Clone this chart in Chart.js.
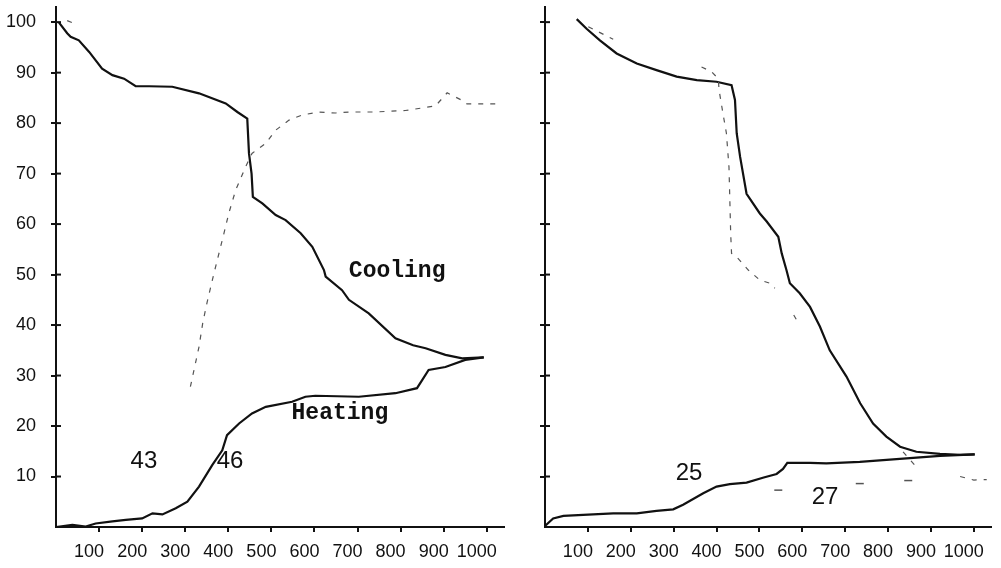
<!DOCTYPE html>
<html>
<head>
<meta charset="utf-8">
<script src="https://cdn.jsdelivr.net/npm/chart.js@4/dist/chart.umd.min.js"></script>
<style>
  html, body { margin: 0; padding: 0; background: #fff; }
  #wrap { position: relative; width: 1001px; height: 568px; overflow: hidden; }
  canvas { position: absolute; top: 0; }
  #leftChart { left: 0; }
  #rightChart { left: 500px; }
</style>
</head>
<body>
<div id="wrap">
  <canvas id="leftChart" width="520" height="568"></canvas>
  <canvas id="rightChart" width="501" height="568"></canvas>
</div>
<script>
// --- DATA ---
// left panel
const leftCoolX = [7, 26, 34, 53, 77, 107, 131, 158, 185, 216, 270, 332, 394, 421, 444, 448, 454, 457, 479, 510, 533, 568, 595, 622, 626, 664, 680, 726, 788, 829, 858, 904, 943, 993];
const leftCoolY = [99.9, 97.8, 97.1, 96.4, 94.1, 90.8, 89.5, 88.8, 87.3, 87.3, 87.2, 85.9, 83.9, 82.2, 80.9, 74, 70, 65.4, 64.1, 61.8, 60.8, 58.2, 55.5, 50.9, 49.6, 46.9, 45, 42.3, 37.4, 36, 35.4, 34.1, 33.4, 33.6];

const leftHeatX = [0, 38, 69, 92, 131, 162, 200, 224, 247, 278, 305, 332, 363, 386, 397, 425, 455, 487, 548, 579, 602, 703, 788, 838, 850, 865, 904, 950, 993];
const leftHeatY = [0, 0.4, 0.1, 0.7, 1.1, 1.4, 1.7, 2.7, 2.5, 3.7, 5, 8, 12.3, 15.2, 18.2, 20.5, 22.5, 23.8, 24.8, 25.8, 26, 25.8, 26.5, 27.5, 29.1, 31.1, 31.7, 33.1, 33.6];

const leftDashX = [26, 40, 100, 312, 332, 341, 351, 366, 390, 401, 417, 440, 455, 487, 510, 541, 571, 610, 649, 680, 738, 811, 850, 881, 908, 943, 954, 1020];
const leftDashY = [100.3, 99.8, null, 27.8, 35.7, 40.6, 44.6, 50, 58.2, 62.1, 66.7, 71.3, 74, 76, 78.6, 80.6, 81.6, 82.2, 82, 82.2, 82.2, 82.5, 83, 83.4, 86, 84.5, 83.8, 83.8];

// right panel
const rightCoolX = [74, 97, 128, 167, 214, 260, 307, 354, 400, 435, 443, 447, 455, 470, 501, 517, 544, 552, 563, 571, 594, 618, 641, 664, 703, 735, 765, 796, 828, 866, 921, 968, 1002];
const rightCoolY = [100.6, 98.7, 96.4, 93.8, 91.8, 90.5, 89.2, 88.5, 88.2, 87.5, 84.6, 78, 73.3, 66, 62.1, 60.5, 57.5, 54.2, 50.9, 48.3, 46.3, 43.6, 39.7, 35, 29.8, 24.5, 20.5, 17.9, 15.9, 14.9, 14.5, 14.3, 14.4];

const rightHeatX = [0, 19, 43, 89, 159, 214, 260, 299, 322, 369, 400, 431, 470, 510, 540, 555, 565, 618, 656, 734, 843, 921, 1002];
const rightHeatY = [0.2, 1.7, 2.2, 2.4, 2.7, 2.7, 3.2, 3.5, 4.4, 6.7, 8, 8.5, 8.8, 9.8, 10.5, 11.5, 12.7, 12.7, 12.6, 12.9, 13.6, 14.1, 14.4];

const rightDashX = [101, 159, 250, 365, 388, 404, 406, 415, 423, 429, 431, 433, 435, 450, 474, 501, 524, 536, 560, 580, 590, 700, 835, 866, 920, 968, 1000, 1030];
const rightDashY = [99.1, 96.6, null, 91.1, 90.2, 88.8, 86.5, 81.9, 78, 71.3, 64.8, 58.1, 54.2, 53.2, 50.9, 48.9, 48.3, 47.3, null, 42, 40.5, null, 14.9, 11.9, null, 10, 9.3, 9.4];

// stray dashes under the right curves
const rightMarkX = [544, 734, 847];
const rightMarkY = [7.3, 8.6, 9.2];

// axes
const xTicks = [100, 200, 300, 400, 500, 600, 700, 800, 900, 1000];
const yTicks = [10, 20, 30, 40, 50, 60, 70, 80, 90, 100];

// text written on the plots (data coordinates)
const leftNotes = [
    { text: "Cooling", x: 792, y: 50.7, mono: true },
    { text: "Heating", x: 659, y: 22.6, mono: true },
    { text: "43", x: 204, y: 12.9 },
    { text: "46", x: 404, y: 12.9 }
];
const rightNotes = [
    { text: "25", x: 336, y: 10.7 },
    { text: "27", x: 653, y: 5.9 }
];

function pts(xs, ys) {
    return xs.map((x, i) => ({ x: x, y: ys[i] }));
}

// draws inner halves of the y tick crosses and the hand written labels
const notesPlugin = {
    id: "notes",
    afterDraw(chart, args, opts) {
        const ctx = chart.ctx;
        const xs = chart.scales.x;
        const ys = chart.scales.y;
        ctx.save();
        ctx.strokeStyle = "#111";
        ctx.lineWidth = 2;
        yTicks.forEach(v => {
            const py = ys.getPixelForValue(v);
            ctx.beginPath();
            ctx.moveTo(xs.left, py);
            ctx.lineTo(xs.left + 5, py);
            ctx.stroke();
        });
        ctx.fillStyle = "#111";
        ctx.textAlign = "center";
        ctx.textBaseline = "middle";
        (opts.items || []).forEach(n => {
            ctx.font = n.mono ? "bold 23px 'Liberation Mono', monospace" : "24px 'Liberation Sans', Arial, sans-serif";
            ctx.fillText(n.text, xs.getPixelForValue(n.x), ys.getPixelForValue(n.y));
        });
        ctx.restore();
    }
};

function makeOptions(showYLabels, yWidth, padRight, notes) {
    return {
        responsive: false,
        animation: false,
        devicePixelRatio: 1,
        layout: { padding: { top: 7, right: padRight, bottom: 0, left: 0 } },
        plugins: {
            legend: { display: false },
            tooltip: { enabled: false },
            notes: { items: notes }
        },
        elements: { point: { radius: 0 }, line: { tension: 0 } },
        scales: {
            x: {
                type: "linear",
                min: 0,
                max: 1040,
                afterFit: s => { s.height = 41; s.paddingLeft = 0; s.paddingRight = 0; },
                afterBuildTicks: s => { s.ticks = xTicks.map(v => ({ value: v })); },
                ticks: {
                    color: "#111",
                    padding: 9,
                    labelOffset: -10,
                    maxRotation: 0,
                    callback: v => String(v),
                    font: { family: "'Liberation Sans', Arial, sans-serif", size: 18 }
                },
                grid: { drawOnChartArea: false, tickLength: 5, color: "#111", lineWidth: 2 },
                border: { display: true, color: "#111", width: 2 }
            },
            y: {
                type: "linear",
                min: 0,
                max: 103,
                afterFit: s => { s.width = yWidth; s.paddingTop = 0; s.paddingBottom = 0; },
                afterBuildTicks: s => { s.ticks = yTicks.map(v => ({ value: v })); },
                ticks: {
                    display: showYLabels,
                    color: "#111",
                    padding: 15,
                    callback: v => String(v),
                    font: { family: "'Liberation Sans', Arial, sans-serif", size: 18 }
                },
                grid: { drawOnChartArea: false, tickLength: 5, color: "#111", lineWidth: 2 },
                border: { display: true, color: "#111", width: 2 }
            }
        }
    };
}

function solid(data) {
    return { data: data, borderColor: "#111", borderWidth: 2.2, fill: false };
}
function dashed(data) {
    return { data: data, borderColor: "#555", borderWidth: 1.2, borderDash: [5, 7], fill: false, spanGaps: false };
}

new Chart(document.getElementById("leftChart"), {
    type: "line",
    data: {
        datasets: [
            dashed(pts(leftDashX, leftDashY)),
            solid(pts(leftCoolX, leftCoolY)),
            solid(pts(leftHeatX, leftHeatY))
        ]
    },
    options: makeOptions(true, 56, 16, leftNotes),
    plugins: [notesPlugin]
});

new Chart(document.getElementById("rightChart"), {
    type: "line",
    data: {
        datasets: [
            dashed(pts(rightDashX, rightDashY)),
            {
                type: "scatter",
                data: pts(rightMarkX, rightMarkY),
                showLine: false,
                pointStyle: "line",
                pointRadius: 4,
                borderColor: "#555",
                borderWidth: 1.5
            },
            solid(pts(rightCoolX, rightCoolY)),
            solid(pts(rightHeatX, rightHeatY))
        ]
    },
    options: makeOptions(false, 45, 10, rightNotes),
    plugins: [notesPlugin]
});
</script>
</body>
</html>
